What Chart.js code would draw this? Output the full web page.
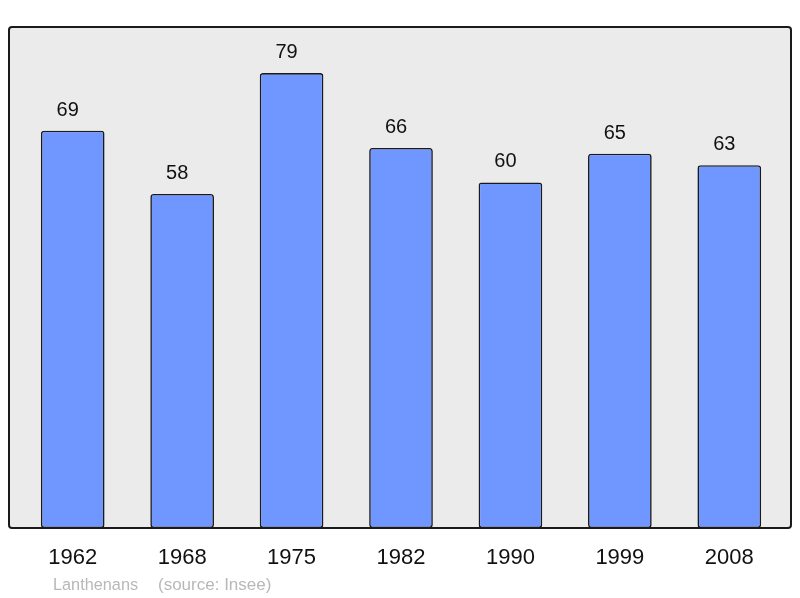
<!DOCTYPE html>
<html>
<head>
<meta charset="utf-8">
<script src="https://cdn.jsdelivr.net/npm/chart.js@4/dist/chart.umd.min.js"></script>
<style>
  html, body { margin: 0; padding: 0; background: #ffffff; }
  #wrap { width: 800px; height: 598px; position: relative; }
</style>
</head>
<body>
<div id="wrap"><canvas id="c" width="800" height="598"></canvas></div>
<script>
const years = ["1962", "1968", "1975", "1982", "1990", "1999", "2008"];
const population = [69, 58, 79, 66, 60, 65, 63];
const yMax = 87;
const footerName = "Lanthenans";
const footerSource = "(source: Insee)";

const FONT = "'Liberation Sans', Arial, sans-serif";

const framePlugin = {
  id: 'frame',
  beforeDatasetsDraw(chart) {
    const { ctx, chartArea: a } = chart;
    ctx.save();
    ctx.beginPath();
    ctx.roundRect(a.left - 9, a.top, (a.right + 7) - (a.left - 9), a.bottom - a.top, 3);
    ctx.fillStyle = '#ebebeb';
    ctx.fill();
    ctx.restore();
  },
  afterDatasetsDraw(chart) {
    const { ctx, chartArea: a } = chart;
    ctx.save();
    // value labels
    const meta = chart.getDatasetMeta(0);
    ctx.font = '20px ' + FONT;
    ctx.fillStyle = '#111';
    ctx.textAlign = 'center';
    ctx.textBaseline = 'alphabetic';
    meta.data.forEach((bar, i) => {
      ctx.fillText(String(chart.data.datasets[0].data[i]), bar.x - 5, bar.y - 15);
    });
    // frame border
    ctx.beginPath();
    ctx.roundRect(a.left - 9, a.top, (a.right + 7) - (a.left - 9), a.bottom - a.top, 3);
    ctx.lineWidth = 2;
    ctx.strokeStyle = '#1a1a1a';
    ctx.stroke();
    // footer
    ctx.fillStyle = '#b8b8b8';
    ctx.textAlign = 'left';
    ctx.font = '16.3px ' + FONT;
    ctx.fillText(footerName, a.left + 35, 590);
    ctx.font = '17px ' + FONT;
    ctx.fillText(footerSource, a.left + 140, 590);
    ctx.restore();
  }
};

new Chart(document.getElementById('c'), {
  type: 'bar',
  data: {
    labels: years,
    datasets: [{
      data: population,
      backgroundColor: '#7096ff',
      borderColor: '#1a1a1a',
      borderWidth: 1.6,
      borderRadius: 3,
      borderSkipped: false,
      categoryPercentage: 1,
      barPercentage: 0.582
    }]
  },
  options: {
    responsive: false,
    animation: false,
    devicePixelRatio: 1,
    layout: { padding: { left: 18, right: 16, top: 27, bottom: 0 } },
    plugins: { legend: { display: false }, tooltip: { enabled: false } },
    scales: {
      x: {
        grid: { display: false, drawTicks: false },
        border: { display: false },
        ticks: { color: '#111', font: { family: FONT, size: 22 }, padding: 17 },
        afterFit(scale) { scale.height = 70; }
      },
      y: { display: false, min: 0, max: yMax }
    }
  },
  plugins: [framePlugin]
});
</script>
</body>
</html>
